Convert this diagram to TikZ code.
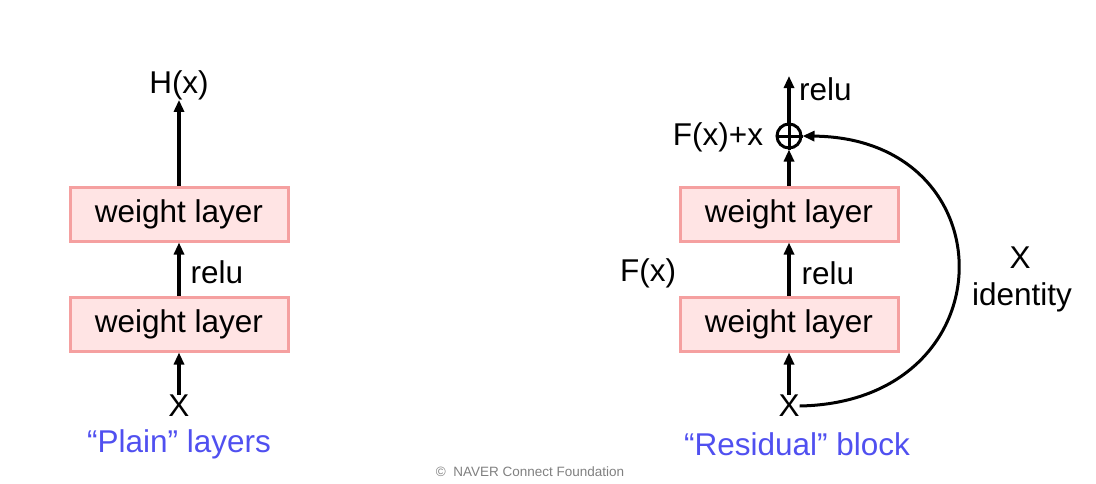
\documentclass[tikz,border=0pt]{standalone}
\usepackage{fontspec}
\setmainfont{Liberation Sans}
\usetikzlibrary{arrows.meta}
\definecolor{boxfill}{RGB}{255,228,228}
\definecolor{boxdraw}{RGB}{245,160,160}
\definecolor{capblue}{RGB}{80,80,240}
\begin{document}
\begin{tikzpicture}[x=1pt,y=-1pt,
  wl/.style={draw=boxdraw,fill=boxfill,line width=3pt,minimum width=218pt,minimum height=54pt,inner sep=0pt,font=\fontsize{31.5}{34}\selectfont},
  lbl/.style={font=\fontsize{31.5}{34}\selectfont,inner sep=0pt},
  captext/.style={font=\fontsize{31.5}{34}\selectfont,text=capblue,inner sep=0pt},
  ar/.style={line width=4pt,-{Triangle[length=12pt,width=10pt]}}]
\useasboundingbox (0,0) rectangle (1096,483);
% left
\node[wl] (l1) at (179,214) {weight layer};
\node[wl] (l2) at (179,324) {weight layer};
\node[lbl] (hx) at (179,85) {H(x)};
\node[lbl] (lx) at (179,406) {X};
\node[lbl] (lr) at (217,272) {relu};
\node[captext] (lc) at (179,444) {“Plain” layers};
\draw[ar] (l1.north) -- (hx.south);
\draw[ar] (l2.north) -- (l1.south);
\draw[ar] (lx.north) -- (l2.south);
% right
\node[wl] (r1) at (789,214) {weight layer};
\node[wl] (r2) at (789,324) {weight layer};
\node[draw,circle,line width=3pt,minimum size=24pt,inner sep=0pt] (pl) at (789,136) {};
\draw[line width=3pt] (pl.north)--(pl.south) (pl.west)--(pl.east);
\coordinate (rt) at (789,76);
\node[lbl,anchor=west] (rr) at (799,89) {relu};
\node[lbl] (fxx) at (718,137) {F(x)+x};
\node[lbl] (fx) at (648,273) {F(x)};
\node[lbl] (rr2) at (828,273) {relu};
\node[lbl] (rx) at (789,406) {X};
\node[lbl] (ix) at (1020,258) {X};
\node[lbl] (id) at (1022,297) {identity};
\node[captext] (rc) at (797,444) {“Residual” block};
\draw[ar] (pl.north) -- (rt);
\draw[ar] (r1.north) -- (pl.south);
\draw[ar] (r2.north) -- (r1.south);
\draw[ar] (rx.north) -- (r2.south);
\draw[line width=3pt,-{Triangle[length=12pt,width=10pt]}] (rx.east) .. controls (1010,402) and (1010,138) .. (pl.east);
\node[font=\fontsize{13.5}{15}\selectfont,text=gray] (cr) at (530,472) {©\ \ NAVER Connect Foundation};
\end{tikzpicture}
\end{document}
